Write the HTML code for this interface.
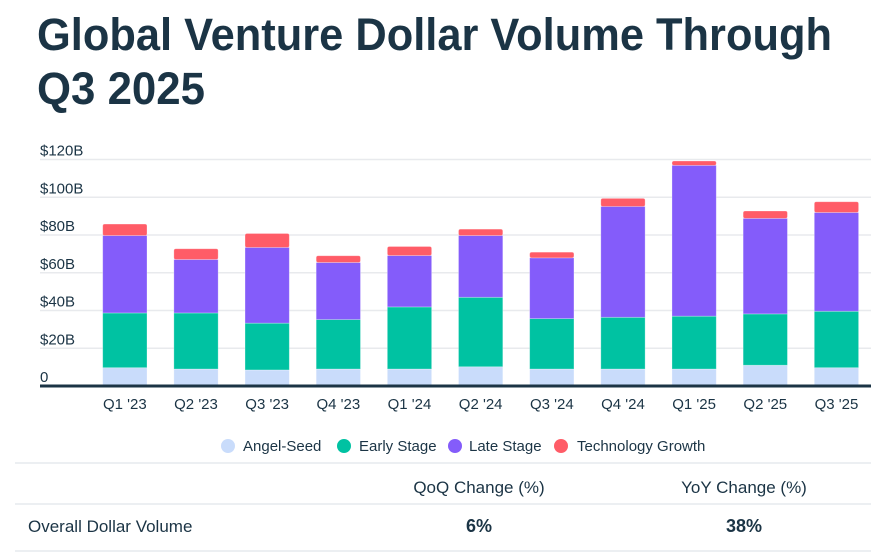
<!DOCTYPE html>
<html><head><meta charset="utf-8"><style>
body{margin:0;background:#fff;width:871px;height:555px;overflow:hidden;font-family:"Liberation Sans",sans-serif}
</style></head><body>
<svg id="chart" width="871" height="555" xmlns="http://www.w3.org/2000/svg" font-family="Liberation Sans, sans-serif">
<text x="37" y="50" font-size="45" font-weight="bold" fill="#1b3445" textLength="795" lengthAdjust="spacingAndGlyphs">Global Venture Dollar Volume Through</text>
<text x="37" y="104" font-size="45" font-weight="bold" fill="#1b3445" textLength="168" lengthAdjust="spacingAndGlyphs">Q3 2025</text>
<g id="grid"></g><g id="bars"></g><g id="xlabels"></g>
<line x1="40" x2="871" y1="386" y2="386" stroke="#1b3445" stroke-width="3"/>
<g font-size="15" fill="#1b3445">
<g><circle cx="228" cy="446" r="7" fill="#c9dcfb"/><text x="243" y="451">Angel-Seed</text></g>
<g><circle cx="344" cy="446" r="7" fill="#00c2a2"/><text x="359" y="451">Early Stage</text></g>
<g><circle cx="455" cy="446" r="7" fill="#845cfa"/><text x="469" y="451">Late Stage</text></g>
<g><circle cx="561" cy="446" r="7" fill="#ff5c67"/><text x="577" y="451">Technology Growth</text></g>
</g>
<g fill="#1b3445">
<line x1="15" x2="871" y1="463" y2="463" stroke="#eceff2" stroke-width="2"/>
<line x1="15" x2="871" y1="504" y2="504" stroke="#eceff2" stroke-width="2"/>
<line x1="15" x2="871" y1="551" y2="551" stroke="#eceff2" stroke-width="2"/>
<text x="479" y="493" font-size="17" text-anchor="middle">QoQ Change (%)</text>
<text x="744" y="493" font-size="17" text-anchor="middle">YoY Change (%)</text>
<text x="28" y="532" font-size="17">Overall Dollar Volume</text>
<text x="479" y="532" font-size="18" font-weight="bold" text-anchor="middle">6%</text>
<text x="744" y="532" font-size="18" font-weight="bold" text-anchor="middle">38%</text>
</g>
</svg>
<script>
const categories = ["Q1 '23","Q2 '23","Q3 '23","Q4 '23","Q1 '24","Q2 '24","Q3 '24","Q4 '24","Q1 '25","Q2 '25","Q3 '25"];
const angelSeed = [9.7,9.0,8.5,9.0,9.0,10.2,9.0,9.0,9.0,11.0,9.7];
const earlyStage = [29.0,29.7,24.8,26.2,32.9,36.8,26.7,27.4,28.0,27.2,29.9];
const lateStage = [41.0,28.3,40.1,30.2,27.2,32.7,32.2,58.7,79.9,50.6,52.3];
const techGrowth = [6.1,5.7,7.4,3.6,4.8,3.4,3.0,4.3,2.3,3.9,5.7];
const yTicks = [0,20,40,60,80,100,120];
const yTickLabels = ["0","$20B","$40B","$60B","$80B","$100B","$120B"];

const NS="http://www.w3.org/2000/svg";
const y0=386, pxPer=37.75/20;
const yScale=v=>y0-v*pxPer;
const xScale=i=>102.7+i*71.16;
const bw=44.3;
function mk(tag,attrs,parent){const e=document.createElementNS(NS,tag);for(const k in attrs)e.setAttribute(k,attrs[k]);parent.appendChild(e);return e;}
const grid=document.getElementById('grid');
yTicks.forEach((t,i)=>{
  if(t>0){const l=mk('line',{x1:40,x2:871,y1:yScale(t),y2:yScale(t),stroke:'#e8eaed','stroke-width':1.5},grid);
  
  }
  const tx=mk('text',{x:40,y:yScale(t)-4,'font-size':15,fill:'#1b3445'},grid);
  tx.textContent=yTickLabels[i];
  
  
});
const bars=document.getElementById('bars');
const series=[[angelSeed,'#c9dcfb','angel-seed'],[earlyStage,'#00c2a2','early-stage'],[lateStage,'#845cfa','late-stage'],[techGrowth,'#ff5c67','technology-growth']];
const xl=document.getElementById('xlabels');
categories.forEach((c,i)=>{
  let acc=0;
  series.forEach(([vals,col,nm],si)=>{
    const top=acc+vals[i];
    const r=mk('rect',{x:xScale(i),y:yScale(top),width:bw,height:yScale(acc)-yScale(top),fill:col,stroke:'#fff','stroke-opacity':0.35,'stroke-width':0.8,rx:si===3?2:0},bars);
    
    
    acc=top;
  });
  const t=mk('text',{x:xScale(i)+bw/2,y:409,'font-size':15,fill:'#1b3445','text-anchor':'middle'},xl);
  t.textContent=c;
  
  
});
</script>
</body></html>
